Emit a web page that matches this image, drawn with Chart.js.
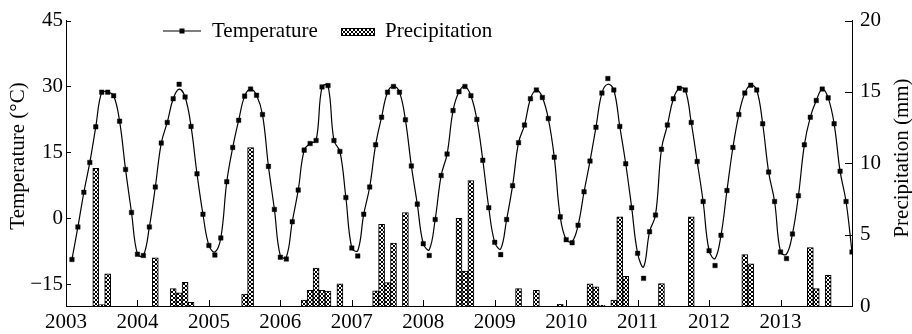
<!DOCTYPE html>
<html>
<head>
<meta charset="utf-8">
<script src="https://cdn.jsdelivr.net/npm/chart.js@4.4.1/dist/chart.umd.min.js"></script>
<style>
html,body{margin:0;padding:0;background:#fff;}
canvas{display:block;}
</style>
</head>
<body>
<canvas id="c" width="912" height="334"></canvas>
<script>
// ---- data ----
const years = [2003, 2004, 2005, 2006, 2007, 2008, 2009, 2010, 2011, 2012, 2013];
const yearLabels = ['2003', '2004', '2005', '2006', '2007', '2008', '2009', '2010', '2011', '2012', '2013'];
const monthsPerYear = 12;
const seriesNames = ['Temperature', 'Precipitation'];
const axisTitles = ['Temperature (°C)', 'Precipitation (mm)'];
const tempTicks = [-15, 0, 15, 30, 45];
const precipTicks = [0, 5, 10, 15, 20];

// monthly mean temperature (°C), markers
const temperature = [
  -9.4, -2.0, 5.9, 12.7, 20.8, 28.7, 28.7, 27.9, 22.1, 11.1, 1.3, -8.2,   // 2003
  -8.5, -2.0, 7.1, 17.1, 21.8, 27.2, 30.5, 27.6, 20.9, 10.1, 0.9, -6.2,   // 2004
  -8.4, -4.5, 8.3, 16.1, 22.3, 27.8, 29.4, 28.0, 23.6, 11.8, 2.0, -8.9,   // 2005
  -9.3, -0.8, 6.4, 15.5, 17.0, 17.7, 29.9, 30.2, 17.7, 15.2, 4.7, -6.8,   // 2006
  -8.6, 0.9, 7.1, 16.7, 23.0, 28.7, 30.0, 28.7, 22.4, 11.9, 3.2, -5.8,    // 2007
  -8.5, -0.3, 9.7, 14.6, 24.5, 28.8, 30.0, 27.9, 22.5, 13.2, 2.4, -5.5,   // 2008
  -8.3, -0.3, 7.4, 17.2, 21.2, 27.2, 29.2, 27.5, 22.7, 13.9, 0.3, -4.9,   // 2009
  -5.6, -1.6, 6.0, 13.0, 20.7, 28.5, 31.8, 29.2, 20.9, 12.4, 2.4, -8.0,   // 2010
  -13.7, -3.1, 0.7, 15.7, 21.2, 27.2, 29.6, 29.2, 21.8, 12.9, 3.8, -7.4,  // 2011
  -10.8, -3.9, 6.3, 16.1, 23.6, 28.5, 30.3, 29.2, 21.5, 10.5, 3.8, -7.7,  // 2012
  -9.2, -3.6, 5.1, 16.7, 23.0, 26.8, 29.4, 27.4, 21.5, 10.7, 3.8, -7.7    // 2013
];

// smoothed temperature curve as drawn in the reference (read at each month)
const temperatureCurve = [
  -9.4, -2.0, 5.9, 12.7, 20.8, 28.7, 28.7, 27.9, 22.1, 11.1, 1.3, -8.2,
  -8.5, -2.0, 7.1, 17.1, 21.8, 27.2, 29.4, 27.6, 20.9, 10.1, 0.9, -6.2,
  -7.7, -4.5, 8.3, 16.1, 22.3, 27.8, 29.4, 28.0, 23.6, 11.8, 2.0, -8.6,
  -8.9, -0.8, 6.4, 15.5, 17.0, 17.7, 29.9, 30.2, 17.7, 15.2, 4.7, -6.8,
  -7.4, 0.9, 7.1, 16.7, 23.0, 28.7, 30.0, 28.7, 22.4, 11.9, 3.2, -5.8,
  -7.2, -0.3, 9.7, 14.6, 24.5, 28.8, 30.0, 27.9, 22.5, 13.2, 2.4, -5.5,
  -7.0, -0.3, 7.4, 17.2, 21.2, 27.2, 29.2, 27.5, 22.7, 13.9, 0.3, -4.9,
  -5.3, -1.6, 6.0, 13.0, 20.7, 28.5, 30.5, 29.2, 20.9, 12.4, 2.4, -8.0,
  -11.1, -3.1, 0.7, 15.7, 21.2, 27.2, 29.6, 29.2, 21.8, 12.9, 3.8, -7.4,
  -9.2, -3.9, 6.3, 16.1, 23.6, 28.5, 30.3, 29.2, 21.5, 10.5, 3.8, -7.7,
  -8.2, -3.6, 5.1, 16.7, 23.0, 26.8, 29.4, 27.4, 21.5, 10.7, 3.8, -7.7
];

// monthly precipitation (mm)
const precipitation = [
  0, 0, 0, 0, 9.64, 0.1, 2.26, 0, 0, 0, 0, 0,        // 2003
  0, 0, 3.37, 0, 0, 1.22, 0.92, 1.66, 0.25, 0, 0, 0, // 2004
  0, 0, 0, 0, 0, 0.83, 11.1, 0, 0, 0, 0, 0,          // 2005
  0, 0, 0, 0.42, 1.1, 2.65, 1.1, 1.04, 0, 1.55, 0, 0, // 2006
  0, 0, 0, 1.06, 5.72, 1.64, 4.41, 0, 6.55, 0, 0, 0, // 2007
  0, 0, 0, 0, 0, 6.14, 2.45, 8.79, 0, 0, 0, 0,       // 2008
  0, 0, 0, 1.22, 0, 0, 1.1, 0, 0, 0, 0.12, 0,        // 2009
  0, 0, 0, 1.55, 1.34, 0.05, 0, 0.42, 6.25, 2.08, 0, 0, // 2010
  0, 0, 0, 1.57, 0, 0, 0, 0, 6.25, 0, 0, 0,          // 2011
  0, 0, 0, 0, 0, 3.6, 2.95, 0, 0, 0, 0, 0,           // 2012
  0, 0, 0, 0, 4.1, 1.22, 0, 2.15, 0, 0, 0, 0         // 2013
];

// ---- build ----
const FONT = '"Liberation Serif", "Times New Roman", Times, serif';
const canvas = document.getElementById('c');
const mainCtx = canvas.getContext('2d');

function makeHatch() {
  const t = document.createElement('canvas');
  t.width = 4; t.height = 4;
  const g = t.getContext('2d');
  g.fillStyle = '#fff';
  g.fillRect(0, 0, 4, 4);
  g.fillStyle = '#000';
  for (let i = 0; i < 4; i++) {
    g.fillRect(i, i, 1, 1);
    g.fillRect(3 - i, i, 1, 1);
  }
  return mainCtx.createPattern(t, 'repeat');
}
const hatch = makeHatch();

const monthX = temperature.map((_, i) => years[0] + (i + 1) / monthsPerYear);
const tempPts = temperature.map((v, i) => ({ x: monthX[i], y: v }));
const curvePts = temperatureCurve.map((v, i) => ({ x: monthX[i], y: v }));
const precipPts = precipitation.map((v, i) => ({ x: monthX[i], y: v > 0 ? v : null }));

const fmtTick = v => (v < 0 ? '\u2212' + Math.abs(v) : String(v));

const decor = {
  id: 'decor',
  afterDraw(chart) {
    const { ctx, chartArea: a, scales: { x, y, y1 } } = chart;
    ctx.save();
    ctx.strokeStyle = '#000';
    ctx.lineWidth = 1;
    ctx.beginPath();
    years.forEach(v => {
      const px = Math.round(x.getPixelForValue(v)) + 0.5;
      ctx.moveTo(px, a.bottom);
      ctx.lineTo(px, a.bottom - 6);
    });
    tempTicks.forEach(v => {
      const py = Math.round(y.getPixelForValue(v)) + 0.5;
      ctx.moveTo(a.left, py);
      ctx.lineTo(a.left + 5, py);
    });
    precipTicks.forEach(v => {
      const py = Math.round(y1.getPixelForValue(v)) + 0.5;
      ctx.moveTo(a.right, py);
      ctx.lineTo(a.right - 7, py);
    });
    ctx.stroke();

    // axis titles
    ctx.fillStyle = '#000';
    ctx.font = '21px ' + FONT;
    ctx.textAlign = 'center';
    ctx.textBaseline = 'middle';
    ctx.save();
    ctx.translate(18, 156);
    ctx.rotate(-Math.PI / 2);
    ctx.fillText(axisTitles[0], 0, 0);
    ctx.restore();
    ctx.save();
    ctx.translate(902, 158);
    ctx.rotate(-Math.PI / 2);
    ctx.fillText(axisTitles[1], 0, 0);
    ctx.restore();

    // legend
    ctx.textAlign = 'left';
    ctx.textBaseline = 'alphabetic';
    ctx.beginPath();
    ctx.lineWidth = 1.2;
    ctx.moveTo(163, 31);
    ctx.lineTo(201, 31);
    ctx.stroke();
    ctx.fillRect(179.5, 28.5, 5, 5);
    ctx.fillText(seriesNames[0], 212, 37);
    ctx.fillStyle = hatch;
    ctx.fillRect(341, 28, 34, 8);
    ctx.lineWidth = 1;
    ctx.strokeRect(341.5, 28.5, 33, 7);
    ctx.fillStyle = '#000';
    ctx.fillText(seriesNames[1], 385, 37);
    ctx.restore();
  }
};

const tickFont = { family: FONT, size: 21 };

new Chart(canvas, {
  data: {
    datasets: [
      {
        type: 'line', label: seriesNames[0] + ' curve', data: curvePts, yAxisID: 'y',
        borderColor: '#000', borderWidth: 1.2, pointRadius: 0, tension: 0.4, order: 1
      },
      {
        type: 'line', label: seriesNames[0], data: tempPts, yAxisID: 'y', showLine: false,
        pointStyle: 'rect', pointRadius: 3.2, pointBorderWidth: 0.4,
        pointBackgroundColor: '#000', pointBorderColor: '#000', order: 0
      },
      {
        type: 'bar', label: seriesNames[1], data: precipPts, yAxisID: 'y1',
        backgroundColor: hatch, borderColor: '#000', borderWidth: 1, barThickness: 6, order: 2
      }
    ]
  },
  options: {
    responsive: false,
    animation: false,
    devicePixelRatio: 1,
    layout: { padding: { top: 17, left: 0, right: 0, bottom: 0 } },
    plugins: { legend: { display: false }, tooltip: { enabled: false } },
    scales: {
      x: {
        type: 'linear', position: 'bottom', offset: false,
        min: years[0], max: years[years.length - 1] + 1,
        grid: { display: false, drawTicks: false, offset: false },
        border: { display: true, color: '#000', width: 1 },
        ticks: {
          font: tickFont, color: '#000', padding: 4, maxRotation: 0, autoSkip: false,
          callback: (v, i) => yearLabels[i]
        },
        afterBuildTicks: s => { s.ticks = years.map(v => ({ value: v })); },
        afterFit: s => { s.height = 28; }
      },
      y: {
        position: 'left', min: -20, max: 45,
        grid: { display: false, drawTicks: false },
        border: { display: true, color: '#000', width: 1 },
        ticks: { font: tickFont, color: '#000', padding: 3, callback: v => fmtTick(v) },
        afterBuildTicks: s => { s.ticks = tempTicks.map(v => ({ value: v })); },
        afterFit: s => { s.width = 66; }
      },
      y1: {
        position: 'right', min: 0, max: 20,
        grid: { display: false, drawTicks: false },
        border: { display: true, color: '#000', width: 1 },
        ticks: { font: tickFont, color: '#000', padding: 8, callback: v => fmtTick(v) },
        afterBuildTicks: s => { s.ticks = precipTicks.map(v => ({ value: v })); },
        afterFit: s => { s.width = 60; }
      }
    }
  },
  plugins: [decor]
});
</script>
</body>
</html>
